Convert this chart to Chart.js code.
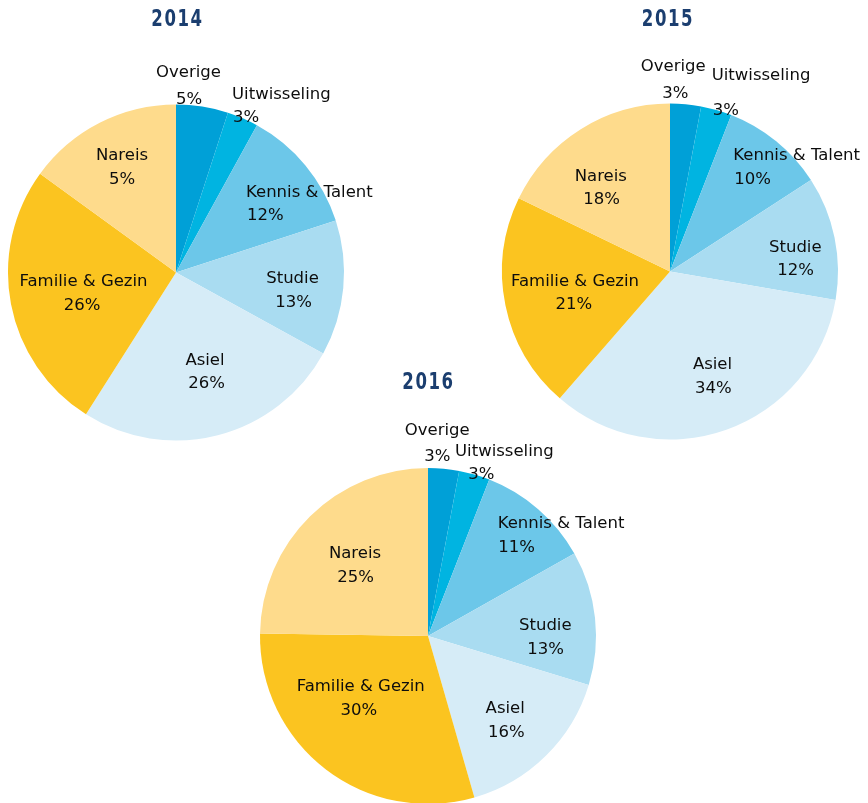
<!DOCTYPE html>
<html>
<head>
<meta charset="utf-8">
<script src="https://cdn.jsdelivr.net/npm/chart.js@4.4.1/dist/chart.umd.min.js"></script>
<style>
  html, body { margin: 0; padding: 0; background: #fff; overflow: hidden; }
  #wrap { position: relative; width: 868px; height: 803px; overflow: hidden; }
  #wrap canvas { position: absolute; left: 0; top: 0; pointer-events: none; }
</style>
</head>
<body>
<div id="wrap">
  <canvas id="pie2014" width="868" height="830"></canvas>
  <canvas id="pie2015" width="868" height="830"></canvas>
  <canvas id="pie2016" width="868" height="830"></canvas>
</div>
<script>
const categories = ["Overige", "Uitwisseling", "Kennis & Talent", "Studie", "Asiel", "Familie & Gezin", "Nareis"];

const values2014 = [5, 3, 12, 13, 26, 26, 15];
const values2015 = [3, 3, 10, 12, 34, 21, 18];
const values2016 = [3, 3, 11, 13, 16, 30, 25];

// percentages as printed on the slices
const pct2014 = ["5%", "3%", "12%", "13%", "26%", "26%", "5%"];
const pct2015 = ["3%", "3%", "10%", "12%", "34%", "21%", "18%"];
const pct2016 = ["3%", "3%", "11%", "13%", "16%", "30%", "25%"];

const sliceColors = ["#00a0d7", "#00b4e1", "#6cc7e9", "#a9dcf1", "#d6ecf7", "#fbc420", "#fedb8c"];

const W = 868, H = 830, R = 168;

// label spots: [nameX, nameY, pctX, pctY] offset from pie centre (baselines)
const alignAll = ["center", "left", "left", "center", "center", "center", "center"];
const layouts = {
  "2014": {
    centre: [176, 272.5], title: [0.5, -246.5],
    spots: [
      [12.5, -195.5, 13, -168.5],
      [56, -173.5, 57, -150.5],
      [70, -75.5, 71, -52.5],
      [116.5, 10.5, 117.5, 34.5],
      [29, 92.5, 30.5, 115.5],
      [-92.5, 13.5, -94, 37.5],
      [-54, -112.5, -54, -88.5]
    ]
  },
  "2015": {
    centre: [670, 271.5], title: [-3, -245.5],
    spots: [
      [3.3, -200.5, 5.3, -173.2],
      [41.7, -191.5, 42.7, -156.5],
      [63.3, -111.5, 64.3, -87.5],
      [125.3, -19.8, 125.5, 3.5],
      [42.5, 97.8, 43.3, 121.2],
      [-95, 14.5, -96.2, 37.8],
      [-69.2, -90.8, -68.3, -67.5]
    ]
  },
  "2016": {
    centre: [428, 636], title: [-0.5, -246.7],
    spots: [
      [9.3, -201, 9.3, -175.3],
      [27, -180, 40.3, -157],
      [69.7, -108.3, 70.3, -84.3],
      [117.3, -6, 117.5, 18],
      [77.2, 76.7, 78.3, 100.7],
      [-67.3, 55, -69.2, 79],
      [-73, -77.7, -72.5, -54.3]
    ]
  }
};

const textLayer = (year, pcts) => ({
  id: "textLayer" + year,
  afterDatasetsDraw(chart) {
    const arc = chart.getDatasetMeta(0).data[0];
    if (!arc) return;
    const { x, y } = arc;
    const lay = layouts[year];
    const ctx = chart.ctx;
    ctx.save();
    ctx.textBaseline = "alphabetic";

    // condensed bold year title
    ctx.save();
    ctx.fillStyle = "#1b3e6f";
    ctx.textAlign = "center";
    ctx.font = 'bold 23px "DejaVu Sans Condensed", "DejaVu Sans", sans-serif';
    ctx.letterSpacing = "2px";
    ctx.translate(x + lay.title[0] + 1, y + lay.title[1]);
    ctx.scale(0.8, 1);
    ctx.fillText(year, 0, 0);
    ctx.restore();

    ctx.fillStyle = "#0d0d0d";
    ctx.font = '16.5px "DejaVu Sans", sans-serif';
    categories.forEach((name, i) => {
      const s = lay.spots[i];
      ctx.textAlign = alignAll[i];
      ctx.fillText(name, x + s[0], y + s[1]);
      ctx.fillText(pcts[i], x + s[2], y + s[3]);
    });
    ctx.restore();
  }
});

const pieChart = (canvasId, year, values, pcts) => {
  const [cx, cy] = layouts[year].centre;
  return new Chart(document.getElementById(canvasId), {
    type: "pie",
    data: {
      labels: categories,
      datasets: [{ data: values, backgroundColor: sliceColors, borderWidth: 0, hoverOffset: 0 }]
    },
    options: {
      responsive: false,
      animation: false,
      layout: { padding: { left: cx - R, right: W - cx - R, top: cy - R, bottom: H - cy - R } },
      plugins: { legend: { display: false }, tooltip: { enabled: false } }
    },
    plugins: [textLayer(year, pcts)]
  });
};

pieChart("pie2014", "2014", values2014, pct2014);
pieChart("pie2015", "2015", values2015, pct2015);
pieChart("pie2016", "2016", values2016, pct2016);
</script>
</body>
</html>
